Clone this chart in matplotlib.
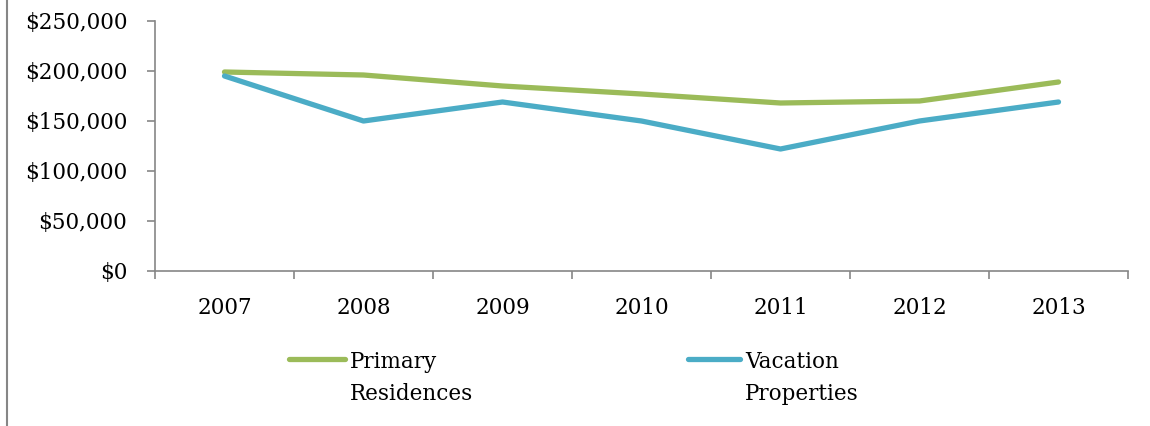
import matplotlib
matplotlib.use('Agg')
import matplotlib.pyplot as plt
from matplotlib.lines import Line2D
from matplotlib.ticker import FuncFormatter, FixedLocator

years = ['2007', '2008', '2009', '2010', '2011', '2012', '2013']
primary = [199000, 196000, 185000, 177000, 168000, 170000, 189000]
vacation = [195000, 150000, 169000, 150000, 122000, 150000, 169000]
series_names = ['Primary\nResidences', 'Vacation\nProperties']

GREEN = '#9BBB59'
BLUE = '#4BACC6'
GREY = '#868686'

plt.rcParams['font.family'] = ['DejaVu Serif']
plt.rcParams['font.size'] = 15.5

W, H = 1150, 426
fig = plt.figure(figsize=(W / 100, H / 100), dpi=100)
ax = fig.add_axes([155 / W, 155 / H, (1128 - 155) / W, 250 / H])

x = list(range(len(years)))
lines = []
for vals, col in [(primary, GREEN), (vacation, BLUE)]:
    ln, = ax.plot(x, vals, color=col, lw=3.8, solid_capstyle='round')
    lines.append(ln)

ax.set_xlim(-0.5, len(years) - 0.5)
ax.set_ylim(0, 250000)
ax.set_yticks(range(0, 250001, 50000))
ax.yaxis.set_major_formatter(FuncFormatter(lambda v, p: f'${v:,.0f}'))

# tick marks between categories, labels at category centres
ax.xaxis.set_major_locator(FixedLocator([i - 0.5 for i in range(len(years) + 1)]))
ax.xaxis.set_minor_locator(FixedLocator(x))
ax.set_xticklabels([''] * (len(years) + 1))
ax.set_xticklabels(years, minor=True)
ax.tick_params(axis='x', which='major', length=6, width=1.2, color=GREY, direction='out')
ax.tick_params(axis='x', which='minor', length=0, pad=19)
ax.tick_params(axis='y', length=6, width=1.2, color=GREY, pad=14)

for side in ['top', 'right']:
    ax.spines[side].set_visible(False)
for side in ['left', 'bottom']:
    ax.spines[side].set_color(GREY)
    ax.spines[side].set_linewidth(1.2)

# left border of the chart area
fig.add_artist(Line2D([6.5 / W, 6.5 / W], [0, 1], transform=fig.transFigure, color=GREY, lw=1.5))

# legend: handle next to first line of a wrapped label
legend_x = [(289, 345), (688, 740)]
for (x0, x1), ln, name in zip(legend_x, lines, series_names):
    fig.add_artist(Line2D([x0 / W, x1 / W], [1 - 359 / H] * 2, transform=fig.transFigure,
                          color=ln.get_color(), lw=3.8, solid_capstyle='round'))
    for j, part in enumerate(name.split('\n')):
        fig.text((x1 + 5) / W, 1 - (368 + 32 * j) / H, part, va='baseline', ha='left')

fig.savefig('out.png', dpi=100, facecolor='white')
